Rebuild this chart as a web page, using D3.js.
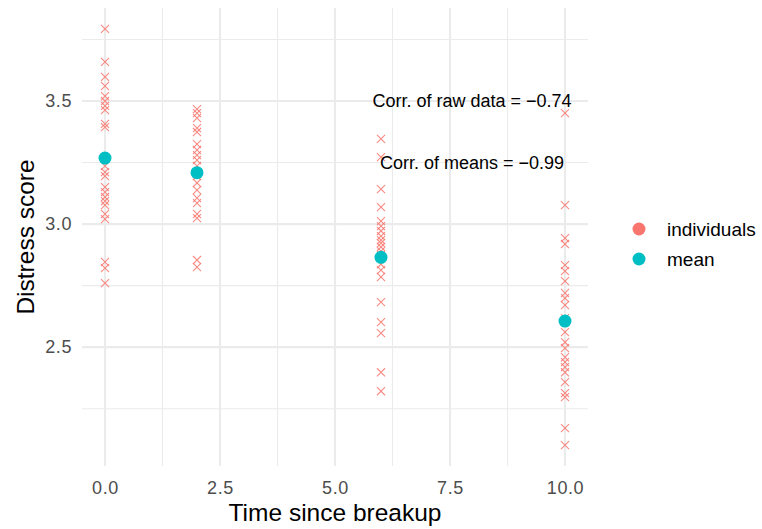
<!DOCTYPE html>
<html>
<head>
<meta charset="utf-8">
<script src="https://cdn.jsdelivr.net/npm/d3@7"></script>
<style>
  html, body { margin: 0; padding: 0; background: #fff; }
  svg { display: block; font-family: "Liberation Sans", Arial, Helvetica, sans-serif; }
</style>
</head>
<body>
<svg id="chart" width="762" height="529"></svg>
<script>
// Distress scores of individuals, grouped by time since breakup
const times = [0, 2, 6, 10];
const scoresT0 = [3.793, 3.659, 3.598, 3.561, 3.520, 3.500, 3.480, 3.463, 3.407, 3.394,
                  3.236, 3.211, 3.195, 3.150, 3.130, 3.110, 3.093, 3.077, 3.041, 3.020,
                  2.846, 2.821, 2.760];
const scoresT2 = [3.467, 3.451, 3.431, 3.390, 3.374, 3.325, 3.301, 3.280, 3.260, 3.236,
                  3.195, 3.167, 3.138, 3.106, 3.085, 3.041, 3.024, 2.854, 2.825];
const scoresT6 = [3.346, 3.272, 3.142, 3.069, 3.012, 2.992, 2.972, 2.951, 2.935, 2.923,
                  2.907, 2.890, 2.874, 2.837, 2.813, 2.785, 2.683, 2.602, 2.557, 2.398,
                  2.321];
const scoresT10 = [3.451, 3.077, 2.943, 2.919, 2.833, 2.809, 2.768, 2.720, 2.699, 2.671,
                   2.618, 2.561, 2.520, 2.496, 2.459, 2.439, 2.419, 2.398, 2.358, 2.313,
                   2.297, 2.171, 2.102];
const meanScores = [3.268, 3.209, 2.865, 2.606];

const xTicks = [0, 2.5, 5, 7.5, 10];
const xTickLabels = ["0.0", "2.5", "5.0", "7.5", "10.0"];
const xMinor = [1.25, 3.75, 6.25, 8.75];
const yTicks = [2.5, 3.0, 3.5];
const yTickLabels = ["2.5", "3.0", "3.5"];
const yMinor = [2.25, 2.75, 3.25, 3.75];

const legendLabels = ["individuals", "mean"];
const notes = [
  { x: 8, y: 3.5, text: "Corr. of raw data = \u22120.74" },
  { x: 8, y: 3.25, text: "Corr. of means = \u22120.99" }
];

const colIndiv = "#F8766D", colMean = "#00BFC4";

const svg = d3.select("#chart");
const panel = { left: 82, right: 588, top: 8, bottom: 466 };

const x = d3.scaleLinear().domain([-0.5, 10.5]).range([panel.left, panel.right]);
const y = d3.scaleLinear().domain([2.0172, 3.8779]).range([panel.bottom, panel.top]);

// grid
const grid = svg.append("g");
grid.selectAll("line.xminor").data(xMinor).join("line")
  .attr("x1", d => x(d)).attr("x2", d => x(d))
  .attr("y1", panel.top).attr("y2", panel.bottom)
  .attr("stroke", "#ebebeb").attr("stroke-width", 1.1);
grid.selectAll("line.yminor").data(yMinor).join("line")
  .attr("y1", d => y(d)).attr("y2", d => y(d))
  .attr("x1", panel.left).attr("x2", panel.right)
  .attr("stroke", "#ebebeb").attr("stroke-width", 1.1);
grid.selectAll("line.xmajor").data(xTicks).join("line")
  .attr("x1", d => x(d)).attr("x2", d => x(d))
  .attr("y1", panel.top).attr("y2", panel.bottom)
  .attr("stroke", "#ebebeb").attr("stroke-width", 2.1);
grid.selectAll("line.ymajor").data(yTicks).join("line")
  .attr("y1", d => y(d)).attr("y2", d => y(d))
  .attr("x1", panel.left).attr("x2", panel.right)
  .attr("stroke", "#ebebeb").attr("stroke-width", 2.1);

// axes (labels only, no domain lines or ticks)
const xAxis = d3.axisBottom(x).tickValues(xTicks)
  .tickFormat((d, i) => xTickLabels[i]).tickSize(0).tickPadding(15);
const gx = svg.append("g").attr("transform", `translate(0,${panel.bottom})`).call(xAxis);
const yAxis = d3.axisLeft(y).tickValues(yTicks)
  .tickFormat((d, i) => yTickLabels[i]).tickSize(0).tickPadding(10);
const gy = svg.append("g").attr("transform", `translate(${panel.left},0)`).call(yAxis);
[gx, gy].forEach(g => {
  g.select(".domain").remove();
  g.selectAll("text").attr("fill", "#4d4d4d").style("font-size", "18px")
    .style("letter-spacing", "0.6px")
    .style("font-family", "'Liberation Sans', Arial, sans-serif");
});

// individual points (x marks)
const groups = [scoresT0, scoresT2, scoresT6, scoresT10];
const indiv = groups.flatMap((arr, i) => arr.map(v => ({ t: times[i], v })));
const cross = d3.symbol().type(d3.symbolX).size(44);
svg.append("g").selectAll("path").data(indiv).join("path")
  .attr("d", cross)
  .attr("transform", d => `translate(${x(d.t)},${y(d.v)})`)
  .attr("fill", "none").attr("stroke", colIndiv).attr("stroke-width", 1.1)
  .attr("opacity", 0.85);

// group means
svg.append("g").selectAll("circle").data(times.map((t, i) => ({ t, v: meanScores[i] })))
  .join("circle")
  .attr("cx", d => x(d.t)).attr("cy", d => y(d.v)).attr("r", 6.5)
  .attr("fill", colMean);

// annotations
svg.append("g").selectAll("text").data(notes).join("text")
  .attr("x", d => x(d.x) - 1).attr("y", d => y(d.y))
  .attr("text-anchor", "middle").attr("dominant-baseline", "central")
  .style("font-size", "18px").attr("fill", "#000")
  .text(d => d.text);

// axis titles
svg.append("text").attr("x", x(5)).attr("y", 521)
  .attr("text-anchor", "middle").style("font-size", "24.5px").attr("fill", "#000")
  .text("Time since breakup");
svg.append("text")
  .attr("transform", `translate(34,${(panel.top + panel.bottom) / 2}) rotate(-90)`)
  .attr("text-anchor", "middle").style("font-size", "24.5px").attr("fill", "#000")
  .text("Distress score");

// legend
const lg = svg.append("g").attr("transform", "translate(639,229)");
const items = lg.selectAll("g").data(legendLabels).join("g")
  .attr("transform", (d, i) => `translate(0,${i * 30})`);
items.append("circle").attr("r", 6.5)
  .attr("fill", (d, i) => [colIndiv, colMean][i]);
items.append("text").attr("x", 28).attr("dominant-baseline", "central")
  .style("font-size", "19px").attr("fill", "#000")
  .text(d => d);
</script>
</body>
</html>
